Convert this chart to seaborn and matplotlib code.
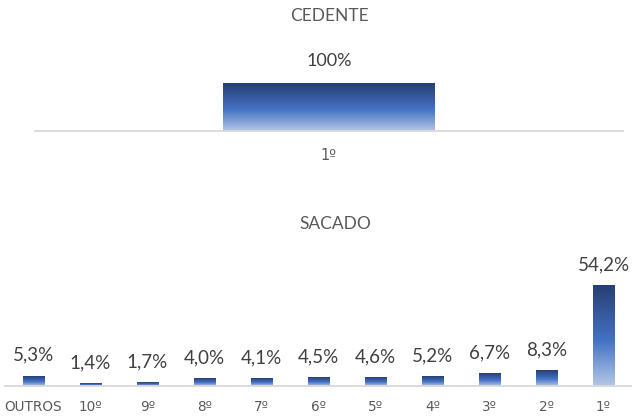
import numpy as np
import pandas as pd
import matplotlib
matplotlib.use("Agg")
import matplotlib.pyplot as plt
from matplotlib.colors import LinearSegmentedColormap
import seaborn as sns

# ---- data ----
cedente_cats = ["1º"]
cedente_vals = [100.0]
sacado_cats = ["OUTROS", "10º", "9º", "8º", "7º", "6º", "5º", "4º", "3º", "2º", "1º"]
sacado_vals = [5.3, 1.4, 1.7, 4.0, 4.1, 4.5, 4.6, 5.2, 6.7, 8.3, 54.2]

sns.set_theme(style="white")
plt.rcParams["font.family"] = ["Lato", "DejaVu Sans"]

TXT = "#595959"
cmap = LinearSegmentedColormap.from_list(
    "grad", [(0.0, "#B4C7E7"), (0.45, "#4472C4"), (1.0, "#263F73")])

fig = plt.figure(figsize=(6.32, 4.17), dpi=100)

def gradient_bars(ax):
    xl, yl = ax.get_xlim(), ax.get_ylim()
    grad = np.linspace(0, 1, 256).reshape(-1, 1)
    for p in ax.patches:
        x0, y0 = p.get_x(), p.get_y()
        w, h = p.get_width(), p.get_height()
        p.set_facecolor("none")
        p.set_edgecolor("none")
        ax.imshow(grad, extent=[x0, x0 + w, y0, y0 + h], origin="lower",
                  aspect="auto", cmap=cmap, zorder=2)
    ax.set_xlim(xl)
    ax.set_ylim(yl)

def style(ax, cats, vals, fs_lab, pad, off, fs_tick):
    for s in ["top", "right", "left"]:
        ax.spines[s].set_visible(False)
    ax.spines["bottom"].set_color("#D9D9D9")
    ax.spines["bottom"].set_linewidth(1.3)
    ax.set_yticks([])
    ax.set_xlabel("")
    ax.set_ylabel("")
    ax.tick_params(axis="x", length=0, pad=pad, labelsize=fs_tick, labelcolor=TXT)
    ax.set_xticks(range(len(cats)))
    ax.set_xticklabels(cats, family="DejaVu Sans")
    for i, v in enumerate(vals):
        s = (f"{v:.0f}%" if v == 100 else f"{v:.1f}%".replace(".", ","))
        ax.annotate(s, (i, v), xytext=(0, off), textcoords="offset points",
                    ha="center", va="bottom", fontsize=fs_lab, color="#404040")

# ---- top panel ----
ax1 = fig.add_axes([35 / 632, (417 - 131) / 417, 588 / 632, 60 / 417])
df1 = pd.DataFrame({"cat": cedente_cats, "val": cedente_vals})
sns.barplot(data=df1, x="cat", y="val", ax=ax1, width=0.359, color="#4472C4")
ax1.set_xlim(-0.5, 0.5)
ax1.set_ylim(0, 125)
style(ax1, cedente_cats, cedente_vals, 13, 12, 10, 10.5)
gradient_bars(ax1)

# ---- bottom panel ----
ax2 = fig.add_axes([5 / 632, 31 / 417, 627 / 632, 120 / 417])
df2 = pd.DataFrame({"cat": sacado_cats, "val": sacado_vals})
sns.barplot(data=df2, x="cat", y="val", ax=ax2, width=0.37, color="#4472C4")
ax2.set_xlim(-0.5, len(sacado_cats) - 0.5)
ax2.set_ylim(0, 65)
style(ax2, sacado_cats, sacado_vals, 13.5, 10, 9, 9.8)
gradient_bars(ax2)

fig.text(329 / 632, 1 - 16 / 417, "CEDENTE", ha="center", va="center",
         fontsize=12.5, color=TXT)
fig.text(335 / 632, 1 - 224 / 417, "SACADO", ha="center", va="center",
         fontsize=12.5, color=TXT)

fig.savefig("out.png", dpi=100)
